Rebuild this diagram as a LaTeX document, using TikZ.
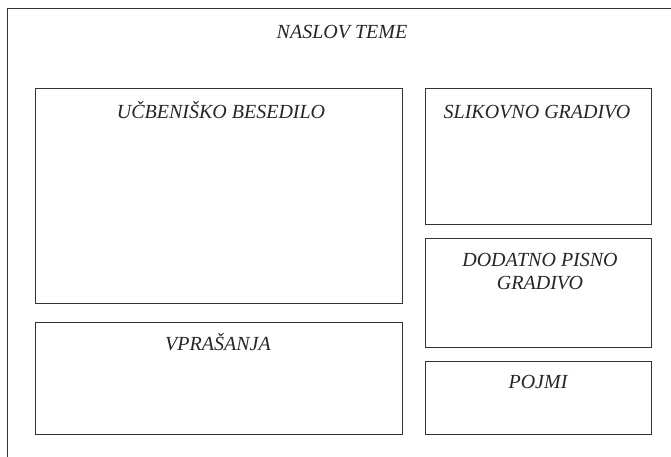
\documentclass[tikz,border=0pt]{standalone}
\usepackage{fontspec}
\setmainfont{Liberation Serif}
\begin{document}
\begin{tikzpicture}[x=1pt, y=-1pt,
  okvir/.style={draw=black!80, line width=0.8pt, inner sep=0pt, anchor=north west},
  napis/.style={anchor=base, inner sep=0pt, align=center, text=black!85,
    font=\fontsize{20}{23}\selectfont\itshape}]
\useasboundingbox (0,0) rectangle (671,456);
\clip (0,0) rectangle (671,456);
\fill[white] (0,0) rectangle (671,456);
\node[okvir, minimum width=680, minimum height=470] (stran) at (7,8){};
\node[okvir, minimum width=367, minimum height=215] (besedilo) at (35,88){};
\node[okvir, minimum width=367, minimum height=112] (vprasanja) at (35,322){};
\node[okvir, minimum width=226, minimum height=136] (slike) at (425,88){};
\node[okvir, minimum width=226, minimum height=109] (dodatno) at (425,238){};
\node[okvir, minimum width=226, minimum height=73] (pojmi) at (425,361){};
\node[napis] (tnaslov) at (342,38){NASLOV TEME};
\node[napis] (tbesedilo) at (221,118){UČBENIŠKO BESEDILO};
\node[napis] (tvprasanja) at (218,350){VPRAŠANJA};
\node[napis] (tslike) at (537,118){SLIKOVNO GRADIVO};
\node[napis] (tdodatno) at (540,289.5){DODATNO PISNO\\GRADIVO};
\node[napis] (tpojmi) at (538,388){POJMI};
\end{tikzpicture}
\end{document}
